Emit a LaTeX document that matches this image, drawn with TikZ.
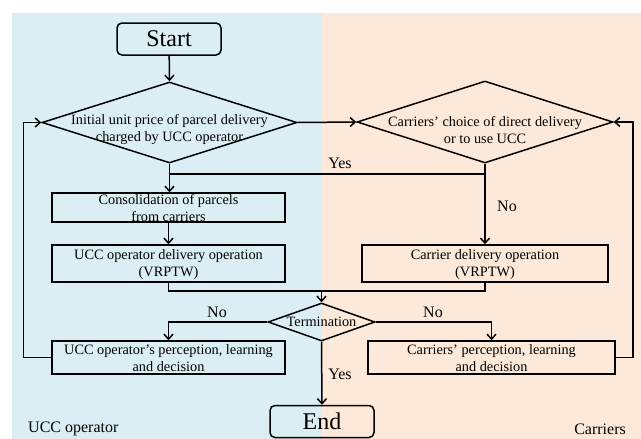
\documentclass[tikz,border=0pt]{standalone}
\usepackage{fontspec}
\setmainfont{Liberation Serif}
\usetikzlibrary{arrows.meta,shapes.geometric,calc}
\definecolor{uccbg}{HTML}{DBEEF4}
\definecolor{carbg}{HTML}{FDE9D9}
\begin{document}
\begin{tikzpicture}[x=1pt,y=-1pt,
  every node/.style={font=\fontsize{14.3}{17}\selectfont},
  boxx/.style={draw,line width=1.5pt,rectangle,inner sep=0pt},
  term/.style={draw,line width=1.5pt,rectangle,rounded corners=5pt,inner sep=0pt,minimum width=104pt,minimum height=32pt,font=\fontsize{24}{26}\selectfont},
  dia/.style={draw,line width=1.5pt,diamond,inner sep=0pt},
  txt/.style={align=center,inner sep=0pt},
  lab/.style={inner sep=0pt,font=\fontsize{16}{18}\selectfont},
  con/.style={line width=1.5pt},
  arr/.style={con,-{Straight Barb[length=5pt,width=9pt,line width=1.5pt]}}]
\useasboundingbox (0,0) rectangle (641,439);
\fill[uccbg] (12,13) rectangle (322,439);
\fill[carbg] (322,13) rectangle (641,439);

\node[term] (start) at (169,39) {Start};
\node[dia,minimum width=255pt,minimum height=81pt] (d1) at (169.5,122.5) {};
\node[txt] (d1t) at (169.5,130) {Initial unit price of parcel delivery\\charged by UCC operator};
\node[dia,minimum width=256pt,minimum height=82pt] (d2) at (485,122) {};
\node[txt] (d2t) at (485,130) {Carriers' choice of direct delivery\\or to use UCC};

\node[boxx,minimum width=233pt,minimum height=29pt] (cons) at (168.5,207.5) {};
\node[txt] (const) at (168.5,208.5) {Consolidation of parcels\\from carriers};
\node[boxx,minimum width=233pt,minimum height=37pt] (ucc) at (168.5,263.5) {};
\node[txt] (ucct) at (168.5,264.5) {UCC operator delivery operation\\(VRPTW)};
\node[boxx,minimum width=246pt,minimum height=37pt] (car) at (485,263.5) {};
\node[txt] (cart) at (485,264.5) {Carrier delivery operation\\(VRPTW)};

\node[dia,minimum width=107pt,minimum height=38pt] (tm) at (321.5,322) {};
\node[txt] (tmt) at (321.5,322) {Termination};

\node[boxx,minimum width=233pt,minimum height=33pt] (uccp) at (168.5,357.5) {};
\node[txt] (uccpt) at (168.5,358) {UCC operator's perception, learning\\and decision};
\node[boxx,minimum width=247pt,minimum height=33pt] (carp) at (491.5,357.5) {};
\node[txt] (carpt) at (491.5,358) {Carriers' perception, learning\\and decision};

\node[term] (end) at (322,421.5) {End};

\coordinate (j1) at (169.5,174);
\coordinate (j2) at (321.5,291);

\draw[arr] (start) -- (d1.north);
\draw[arr] (d1.east) -- (d2.west);
\draw[arr] (d1.south) -- (cons.north -| d1.south);
\draw[con] (d2.south) |- (j1);
\draw[arr] (d2.south) -- (car.north);
\draw[arr] (cons.south) -- (ucc.north);
\draw[con] (ucc.south) |- (j2);
\draw[arr] (car.south) |- (j2) -- (tm.north);
\draw[arr] (tm.west) -| (uccp.north);
\draw[arr] (tm.east) -| (carp.north);
\draw[arr] (tm.south) -- (end.north);
\draw[arr] (uccp.west) -- ++(-28,0) |- (d1.west);
\draw[arr] (carp.east) -- ++(17,0) |- (d2.east);

\node[lab] (yes1) at (340,163) {Yes};
\node[lab] (no1) at (507,206) {No};
\node[lab] (no2) at (217,312) {No};
\node[lab] (no3) at (433,312) {No};
\node[lab] (yes2) at (340,374) {Yes};
\node[lab,anchor=west] (lu) at (28,429) {UCC operator};
\node[lab,anchor=east] (lc) at (626,429) {Carriers};
\end{tikzpicture}
\end{document}
